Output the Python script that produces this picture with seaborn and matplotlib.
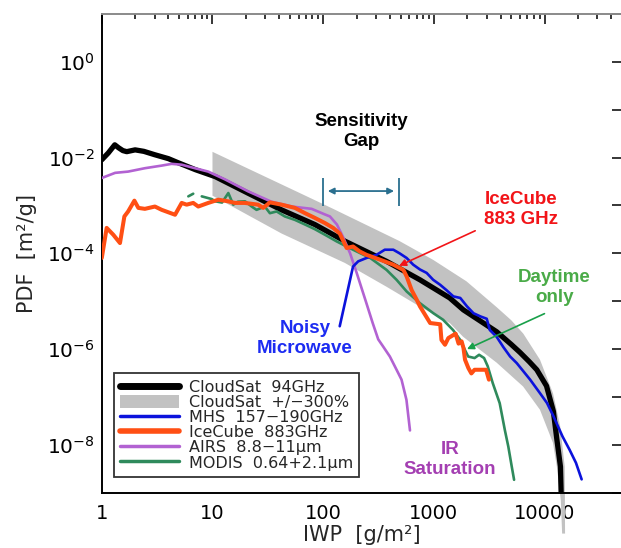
import matplotlib
matplotlib.use("Agg")
import numpy as np
import seaborn as sns
import matplotlib.pyplot as plt
from matplotlib.lines import Line2D
from matplotlib.patches import Patch
from matplotlib.ticker import FixedLocator, FixedFormatter, LogLocator, NullLocator, NullFormatter

# ---------------- data ----------------
cloudsat_x = [1.0, 1.145, 1.31, 1.42, 1.55, 1.68, 2.0, 2.4, 3.0, 4.0, 4.9, 7.0, 10.6, 21, 42, 84,
              157, 374, 748, 1390, 1845, 2800, 3690, 5000, 6000, 7300, 8500, 10400, 12000,
              12900, 13900, 14100]
cloudsat_y = [9e-3, 1.25e-2, 1.85e-2, 1.6e-2, 1.4e-2, 1.33e-2, 1.45e-2, 1.35e-2, 1.15e-2, 9.5e-3,
              7.8e-3, 5.6e-3, 4.0e-3, 1.8e-3, 8.1e-4, 4.0e-4, 1.8e-4, 6.8e-5, 2.8e-5, 1.17e-5,
              6.6e-6, 3.5e-6, 2.3e-6, 1.25e-6, 8.5e-7, 5.4e-7, 3.7e-7, 1.7e-7, 5e-8, 1.3e-8,
              3.5e-9, 1e-9]

band_up_x = [10, 10, 62, 123, 246, 490, 985, 1970, 3690, 5000, 6420, 9080, 11900, 13800, 15200, 15300]
band_up_y = [1.6e-3, 1.32e-2, 1.8e-3, 8.5e-4, 3.9e-4, 1.8e-4, 7.3e-5, 2.6e-5, 7.5e-6, 4e-6, 2.1e-6,
             6e-7, 1.2e-7, 2.5e-8, 3.5e-9, 1.4e-10]
band_lo_x = [10, 42, 157, 374, 748, 1390, 1840, 3690, 6400, 9080, 11900, 12900, 14000, 14400]
band_lo_y = [1.6e-3, 2.6e-4, 6.3e-5, 2.0e-5, 7.7e-6, 3.5e-6, 1.8e-6, 5.2e-7, 1.65e-7, 5.4e-8,
             1.1e-8, 3.5e-9, 7e-10, 1.4e-10]

mhs_x = [141, 186, 207, 246, 303, 360, 430, 490, 567, 650, 748, 860, 985, 1140, 1300, 1500, 1730,
         1990, 2280, 2640, 3000, 3200, 3690, 4240, 4880, 5600, 7400, 9080, 10500, 12000, 14500,
         16800, 19200, 21600]
mhs_y = [3e-6, 5.3e-5, 6.8e-5, 8e-5, 9.3e-5, 1.19e-4, 1.19e-4, 1.0e-4, 8e-5, 5.8e-5, 4.6e-5,
         3.9e-5, 2.8e-5, 2.2e-5, 1.7e-5, 1.26e-5, 1.17e-5, 7.8e-6, 5.6e-6, 4.8e-6, 4.3e-6, 2.5e-6,
         1.8e-6, 1.1e-6, 7e-7, 5.1e-7, 2.3e-7, 1.2e-7, 7.5e-8, 4.0e-8, 1.5e-8, 7.9e-9, 4.2e-9, 1.9e-9]

icecube_x = [1.0, 1.107, 1.27, 1.46, 1.6, 1.73, 1.97, 2.14, 2.45, 3.02, 3.48, 4.59, 5.27, 5.84,
             6.7, 7.44, 9.15, 11.3, 13.9, 15.9, 19.6, 25.8, 28.7, 33, 42, 55.5, 68.5, 84, 103.5,
             123, 141, 163, 186, 213, 246, 325, 430, 530, 567, 630, 700, 748, 925, 1140, 1170,
             1260, 1350, 1570, 1670, 1780, 1850, 1910, 2050, 2180, 2330, 2700, 2960, 3140]
icecube_y = [8e-5, 3.4e-4, 2.45e-4, 1.64e-4, 5.9e-4, 7.5e-4, 1.26e-3, 8.9e-4, 8.5e-4, 9.5e-4,
             8.1e-4, 6.4e-4, 1.13e-3, 1.04e-3, 1.13e-3, 9.5e-4, 1.13e-3, 1.32e-3, 1.22e-3, 1.13e-3,
             1.13e-3, 1.04e-3, 8.9e-4, 1.16e-3, 1.04e-3, 8.9e-4, 6.9e-4, 5.5e-4, 4.3e-4, 3.4e-4,
             2.6e-4, 1.29e-4, 1.39e-4, 1.1e-4, 9.3e-5, 7.4e-5, 5.8e-5, 4.5e-5, 3.3e-5, 1.7e-5,
             1.07e-5, 7.8e-6, 3.5e-6, 3.3e-6, 1.55e-6, 1.23e-6, 1.7e-6, 2.1e-6, 1.3e-6, 1.45e-6,
             1.05e-6, 6e-7, 4e-7, 3.1e-7, 3.7e-7, 3.7e-7, 3.7e-7, 2.3e-7]

airs_x = [1.0, 1.32, 1.73, 2.45, 3.47, 4.27, 5.27, 6.94, 9.15, 13, 21, 34, 52, 78.6, 103.5, 115,
          133, 151, 175, 200, 246, 280, 314, 348, 400, 460, 510, 565, 608]
airs_y = [3.75e-3, 4.8e-3, 5.1e-3, 6.0e-3, 6.8e-3, 7.4e-3, 7.1e-3, 6.0e-3, 5.1e-3, 3.5e-3, 1.97e-3,
          1.2e-3, 9.5e-4, 8.5e-4, 6.5e-4, 5.9e-4, 4e-4, 2.2e-4, 1e-4, 4e-5, 9e-6, 3.5e-6, 1.6e-6,
          1.13e-6, 7e-7, 3.7e-7, 2.3e-7, 8.7e-8, 2e-8]

modis_a_x = [6.05, 6.7]
modis_a_y = [1.55e-3, 1.76e-3]
modis_b_x = [8.0, 9.85, 10.6, 12.2, 13.9, 15.4, 17, 19.7, 22.6, 25, 29.7, 33, 38, 45, 55.5, 68.5,
             84, 103.5, 132, 186, 266, 374, 460, 567, 748, 990, 1210, 1490, 1730, 1910, 2040,
             2330, 2560, 2840, 3060, 3400, 3930, 4380, 4700, 5050, 5300]
modis_b_y = [1.55e-3, 1.36e-3, 1.22e-3, 1.15e-3, 1.82e-3, 1.04e-3, 1.2e-3, 1.22e-3, 9.5e-4,
             8.1e-4, 9.5e-4, 6.9e-4, 7.5e-4, 5.9e-4, 5e-4, 4e-4, 3.2e-4, 2.45e-4, 1.78e-4, 1.19e-4,
             8e-5, 4.5e-5, 2.8e-5, 1.6e-5, 9.1e-6, 5.6e-6, 4.1e-6, 2.5e-6, 1.55e-6, 9.5e-7, 7e-7,
             6.5e-7, 7.6e-7, 6.5e-7, 4.4e-7, 1.95e-7, 7.4e-8, 2e-8, 9.2e-9, 3.5e-9, 1.86e-9]

legend_labels = ["CloudSat  94GHz", "CloudSat  +/\u2212300%", "MHS  157\u2212190GHz",
                 "IceCube  883GHz", "AIRS  8.8\u221211\u03bcm", "MODIS  0.64+2.1\u03bcm"]
x_ticks = [1, 10, 100, 1000, 10000]
x_tick_labels = ["1", "10", "100", "1000", "10000"]
y_exponents = list(range(-9, 2))

gap_lo, gap_hi = 100, 480

# ---------------- style ----------------
sns.set_theme(style="white")
plt.rcParams['font.family'] = ['DejaVu Sans']

C_BLACK = "black"
C_BAND = "#c2c2c2"
C_BLUE = "#0b12dc"
C_ORANGE = "#ff4f14"
C_VIOLET = "#b262d2"
C_GREEN = "#2f8a5c"

fig = plt.figure(figsize=(6.21, 5.48), dpi=100)
ax = fig.add_axes([0.1639, 0.1009, 0.8377, 0.8736])
ax.set_xscale("log")
ax.set_yscale("log")
ax.set_xlim(1, 5e4)
ax.set_ylim(1e-9, 10)

# band
poly_x = np.concatenate([band_up_x, band_lo_x[::-1]])
poly_y = np.concatenate([band_up_y, band_lo_y[::-1]])
ax.fill(poly_x, poly_y, color=C_BAND, lw=0, zorder=1, clip_on=False)

kw = dict(ax=ax, estimator=None, sort=False, legend=False)
sns.lineplot(x=cloudsat_x, y=cloudsat_y, color=C_BLACK, lw=3.8, zorder=2, **kw)
sns.lineplot(x=airs_x, y=airs_y, color=C_VIOLET, lw=1.9, zorder=3, **kw)
sns.lineplot(x=modis_a_x, y=modis_a_y, color=C_GREEN, lw=1.9, zorder=4, **kw)
sns.lineplot(x=modis_b_x, y=modis_b_y, color=C_GREEN, lw=1.9, zorder=4, **kw)
sns.lineplot(x=mhs_x, y=mhs_y, color=C_BLUE, lw=1.9, zorder=5, **kw)
sns.lineplot(x=icecube_x, y=icecube_y, color=C_ORANGE, lw=2.9, zorder=6, **kw)

# ticks
ax.xaxis.set_major_locator(FixedLocator(x_ticks))
ax.xaxis.set_major_formatter(FixedFormatter(x_tick_labels))
ax.xaxis.set_minor_locator(LogLocator(base=10, subs=np.arange(2, 10), numticks=20))
ax.xaxis.set_minor_formatter(NullFormatter())
ax.yaxis.set_major_locator(FixedLocator([10.0 ** e for e in y_exponents]))
ax.yaxis.set_major_formatter(FixedFormatter(
    ["10$^{\\mathregular{%d}}$" % e if e % 2 == 0 else "" for e in y_exponents]))
ax.yaxis.set_minor_locator(NullLocator())
ax.tick_params(which="both", direction="in", top=True, right=True, colors="black")
ax.tick_params(which="major", length=7, width=1.1, labelsize=14)
ax.tick_params(which="minor", length=3.5, width=1.1)
ax.tick_params(axis="x", which="major", pad=8)
ax.tick_params(axis="y", which="major", pad=5, labelsize=14.5)
for s in ax.spines.values():
    s.set_color("black")
    s.set_linewidth(1.4)
ax.spines["top"].set_color("#8a8a8a")

ax.set_xlabel("IWP  [g/m\u00b2]", fontsize=15)
ax.set_ylabel("PDF  [m\u00b2/g]", fontsize=15)
ax.xaxis.set_label_coords(0.5, -0.068)
ax.yaxis.set_label_coords(-0.125, 0.5)

# legend
handles = [Line2D([], [], color=C_BLACK, lw=5),
           Patch(facecolor=C_BAND, edgecolor="none"),
           Line2D([], [], color=C_BLUE, lw=2.5),
           Line2D([], [], color=C_ORANGE, lw=4),
           Line2D([], [], color=C_VIOLET, lw=2.5),
           Line2D([], [], color=C_GREEN, lw=2.5)]
leg = ax.legend(handles, legend_labels, loc="lower left", bbox_to_anchor=(0.023, 0.033),
                borderaxespad=0, frameon=True, fancybox=False, edgecolor="black",
                fontsize=11.5, handlelength=3.7, handleheight=0.9, labelspacing=0.0,
                borderpad=0.4, handletextpad=0.6)
leg.get_frame().set_linewidth(1.3)
leg.set_zorder(10)

# annotations
tfont = dict(family=["Liberation Sans", "DejaVu Sans"], fontweight="bold", fontsize=13.5,
             ha="center", va="center", linespacing=1.25)
ax.text(219, 0.0348, "Sensitivity\nGap", color="black", **tfont)
ax.text(6120, 8.2e-4, "IceCube\n883 GHz", color="#f21418", **tfont)
ax.text(12200, 1.9e-5, "Daytime\nonly", color="#4aab48", **tfont)
ax.text(68.5, 1.64e-6, "Noisy\nMicrowave", color="#1c2cf2", **tfont)
ax.text(1400, 5.0e-9, "IR\nSaturation", color="#a43fb2", **tfont)

C_GAP = "#2a6f8f"
ax.vlines([gap_lo, gap_hi], 9.9e-4, 3.8e-3, color=C_GAP, lw=1.3, zorder=7)
ax.annotate("", xy=(gap_lo * 1.1, 2.0e-3), xytext=(gap_hi * 0.91, 2.0e-3),
            arrowprops=dict(arrowstyle="<|-|>", color=C_GAP, lw=1.3, mutation_scale=9,
                            shrinkA=0, shrinkB=0), zorder=7)
ax.annotate("", xy=(485, 5.5e-5), xytext=(2360, 2.96e-4),
            arrowprops=dict(arrowstyle="-|>", color="#f21418", lw=1.2, mutation_scale=10,
                            shrinkA=0, shrinkB=0), zorder=8)
ax.annotate("", xy=(1990, 1.0e-6), xytext=(9970, 5.5e-6),
            arrowprops=dict(arrowstyle="-|>", color="#19a04a", lw=1.2, mutation_scale=10,
                            shrinkA=0, shrinkB=0), zorder=8)

fig.savefig("out.png", dpi=100)
